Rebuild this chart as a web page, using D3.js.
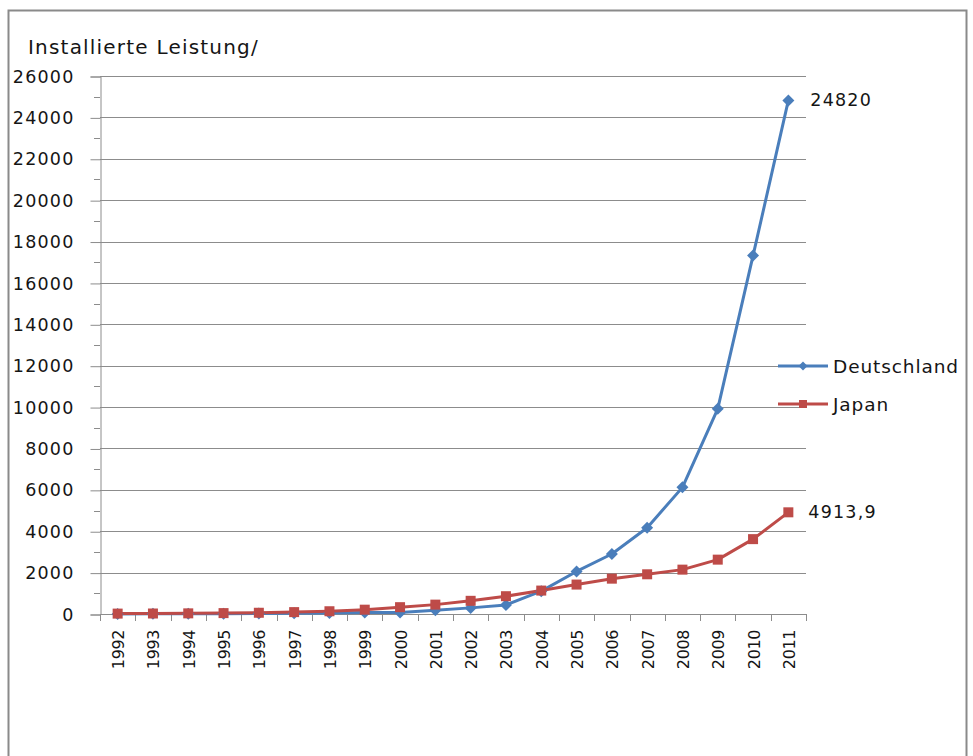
<!DOCTYPE html>
<html>
<head>
<meta charset="utf-8">
<script src="https://cdn.jsdelivr.net/npm/d3@7"></script>
<style>
  html, body { margin: 0; padding: 0; background: #fff; }
  svg { display: block; }
  text { font-family: "DejaVu Sans", sans-serif; fill: #151515; }
</style>
</head>
<body>
<svg id="chart" width="973" height="756"></svg>
<script>
const years = ["1992","1993","1994","1995","1996","1997","1998","1999","2000","2001",
               "2002","2003","2004","2005","2006","2007","2008","2009","2010","2011"];
const deutschland = [5.6, 8.9, 12.4, 17.8, 27.8, 41.8, 53.8, 69.4, 76, 186,
                     296, 435, 1105, 2056, 2899, 4170, 6120, 9914, 17320, 24820];
const japan = [19, 24, 31, 43, 60, 91, 133, 209, 330, 453,
               637, 860, 1132, 1422, 1708, 1919, 2144, 2627, 3618, 4913.9];
const yTicks = [0, 2000, 4000, 6000, 8000, 10000, 12000, 14000, 16000, 18000, 20000, 22000, 24000, 26000];
const yMinorTicks = [1000, 3000, 5000, 7000, 9000, 11000, 13000, 15000, 17000, 19000, 21000, 23000, 25000];
const titleText = "Installierte Leistung/";
const endLabels = { deutschland: "24820", japan: "4913,9" };
const seriesNames = ["Deutschland", "Japan"];

(function () {
const blue = "#4a7ebb", red = "#be4b48", gridCol = "#8c8c8c";
const svg = d3.select("#chart");

// outer frame
svg.append("rect").attr("x", 8.5).attr("y", 10.5).attr("width", 958).attr("height", 760)
  .attr("fill", "none").attr("stroke", "#8a8a8a").attr("stroke-width", 2);

const pLeft = 100, pRight = 806, pTop = 76, pBottom = 614;
const x = d3.scaleBand().domain(years).range([pLeft, pRight]).padding(0);
const y = d3.scaleLinear().domain([0, 26000]).range([pBottom, pTop]);
const cx = d => x(d) + x.bandwidth() / 2;

// gridlines
svg.append("g").selectAll("line").data(yTicks.filter(t => t > 0)).join("line")
  .attr("x1", pLeft).attr("x2", pRight)
  .attr("y1", d => Math.round(y(d)) + 0.5).attr("y2", d => Math.round(y(d)) + 0.5)
  .attr("stroke", gridCol).attr("stroke-width", 1);

// y axis
const yAxis = d3.axisLeft(y).tickValues(yTicks).tickSize(10).tickPadding(14).tickFormat(d3.format("d"));
const gy = svg.append("g").attr("transform", `translate(${pLeft + 0.5},0.5)`).call(yAxis);
gy.select(".domain").attr("stroke", gridCol);
gy.selectAll(".tick line").attr("stroke", gridCol);
gy.selectAll(".tick text").attr("font-size", 17.5).attr("letter-spacing", 1.2)
  .attr("font-family", "DejaVu Sans").attr("fill", "#151515").attr("x", -26);
svg.append("g").selectAll("line").data(yMinorTicks).join("line")
  .attr("x1", pLeft - 6).attr("x2", pLeft)
  .attr("y1", d => Math.round(y(d)) + 0.5).attr("y2", d => Math.round(y(d)) + 0.5)
  .attr("stroke", gridCol);

// x axis
svg.append("line").attr("x1", pLeft).attr("x2", pRight)
  .attr("y1", pBottom + 0.5).attr("y2", pBottom + 0.5).attr("stroke", gridCol);
const bounds = years.map(d => x(d)).concat([pRight]);
svg.append("g").selectAll("line").data(bounds).join("line")
  .attr("x1", d => Math.round(d) + 0.5).attr("x2", d => Math.round(d) + 0.5)
  .attr("y1", pBottom).attr("y2", pBottom + 7).attr("stroke", gridCol);
svg.append("g").selectAll("text").data(years).join("text")
  .attr("transform", d => `translate(${cx(d) + 6.5},${pBottom + 16}) rotate(-90)`)
  .attr("text-anchor", "end").attr("font-size", 16).attr("letter-spacing", -0.4).text(d => d);

// title
svg.append("text").attr("x", 28).attr("y", 54).attr("font-size", 20).attr("letter-spacing", 1.2)
  .text(titleText);

// lines
const line = d3.line().x((d, i) => cx(years[i])).y(d => y(d));
svg.append("path").datum(deutschland).attr("d", line).attr("fill", "none")
  .attr("stroke", blue).attr("stroke-width", 3).attr("stroke-linejoin", "round");
svg.append("path").datum(japan).attr("d", line).attr("fill", "none")
  .attr("stroke", red).attr("stroke-width", 3).attr("stroke-linejoin", "round");

// markers
const diamond = s => `M0,${-s} L${s},0 L0,${s} L${-s},0 Z`;
svg.append("g").selectAll("path").data(deutschland).join("path")
  .attr("transform", (d, i) => `translate(${cx(years[i])},${y(d)})`)
  .attr("d", diamond(6)).attr("fill", blue);
svg.append("g").selectAll("rect").data(japan).join("rect")
  .attr("x", (d, i) => cx(years[i]) - 5).attr("y", d => y(d) - 5)
  .attr("width", 10).attr("height", 10).attr("fill", red);

// end labels
const lastIdx = years.length - 1;
svg.append("text").attr("x", cx(years[lastIdx]) + 22).attr("y", y(deutschland[lastIdx]))
  .attr("dominant-baseline", "central").attr("font-size", 17.5).attr("letter-spacing", 1.2)
  .text(endLabels.deutschland);
svg.append("text").attr("x", cx(years[lastIdx]) + 20).attr("y", y(japan[lastIdx]))
  .attr("dominant-baseline", "central").attr("font-size", 17.5).attr("letter-spacing", 1.2)
  .text(endLabels.japan);

// legend
const legY = [366, 404];
const leg = svg.append("g");
seriesNames.forEach((name, i) => {
  const col = i === 0 ? blue : red;
  leg.append("line").attr("x1", 778).attr("x2", 828).attr("y1", legY[i]).attr("y2", legY[i])
    .attr("stroke", col).attr("stroke-width", 3);
  if (i === 0) {
    leg.append("path").attr("transform", `translate(803,${legY[i]})`).attr("d", diamond(4.5)).attr("fill", col);
  } else {
    leg.append("rect").attr("x", 799).attr("y", legY[i] - 4).attr("width", 8).attr("height", 8).attr("fill", col);
  }
  leg.append("text").attr("x", 833).attr("y", legY[i]).attr("dominant-baseline", "central")
    .attr("font-size", 18.5).attr("letter-spacing", 0.9).text(name);
});
})();
</script>
</body>
</html>
